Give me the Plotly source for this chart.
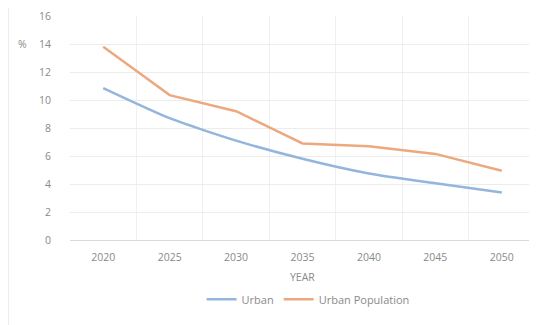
import plotly.graph_objects as go

years = ["2020", "2025", "2030", "2035", "2040", "2045", "2050"]
urban = [10.85, 8.7, 7.1, 5.8, 4.75, 4.05, 3.4]
urban_population = [13.8, 10.35, 9.2, 6.9, 6.7, 6.15, 4.95]
y_ticks = [0, 2, 4, 6, 8, 10, 12, 14, 16]

fig = go.Figure()
fig.add_trace(go.Scatter(x=years, y=urban, name="Urban", mode="lines",
                         line=dict(color="#94B5DC", width=2.5, shape="spline", smoothing=0.6)))
fig.add_trace(go.Scatter(x=years, y=urban_population, name="Urban Population", mode="lines",
                         line=dict(color="#ECA980", width=2.5)))

# the page body has an 8px margin; figure size/margins compensate for it
fig.update_layout(
    width=529, height=317,
    margin=dict(l=62, r=2, t=8, b=85, autoexpand=False),
    paper_bgcolor="white", plot_bgcolor="white",
    font=dict(family="Open Sans, sans-serif", size=10.5, color="#8a8a8a"),
    showlegend=True,
    legend=dict(orientation="h", x=0.512, xanchor="center", y=-0.265, yanchor="middle",
                font=dict(size=11, color="#8a8a8a"), itemwidth=30),
    xaxis=dict(type="category", range=[-0.5, 6.5], tickson="boundaries",
               showgrid=True, gridcolor="#f0f0f0", gridwidth=1,
               showline=True, linecolor="#d9d9d9", linewidth=1,
               ticks="", ticklabelstandoff=7, automargin=False),
    yaxis=dict(range=[0, 16], tickvals=y_ticks, showgrid=True, gridcolor="#ececec",
               gridwidth=1, zeroline=False, showline=False, ticks="", ticklabelstandoff=18,
               automargin=False),
    annotations=[
        dict(text="YEAR", xref="paper", yref="paper", x=0.499, y=-0.165,
             showarrow=False, font=dict(size=10.5, color="#8a8a8a"), xanchor="center", yanchor="middle"),
        dict(text="%", xref="paper", yref="paper", x=-0.102, y=0.875,
             showarrow=False, font=dict(size=10.5, color="#8a8a8a"), xanchor="center", yanchor="middle"),
    ],
    shapes=[
        dict(type="line", xref="paper", yref="paper", x0=-0.1323, x1=-0.1323, y0=-0.38, y1=1.04,
             line=dict(color="#ececec", width=1), layer="below"),
    ],
)

fig.write_html("out.html")
